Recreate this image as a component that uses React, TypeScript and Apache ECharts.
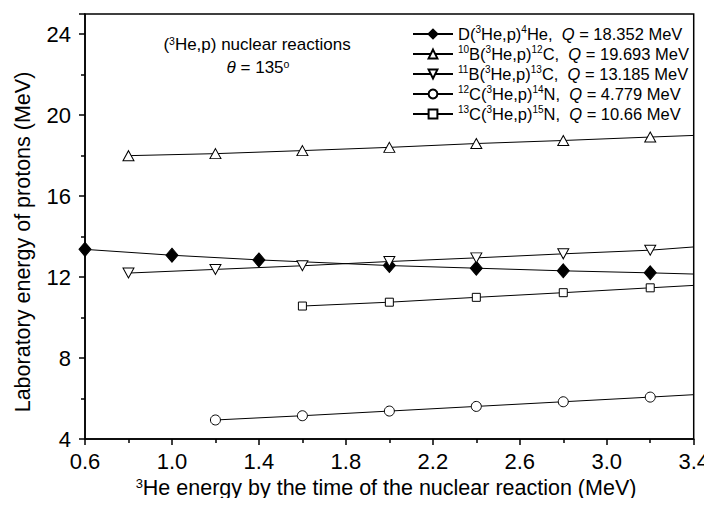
import React, { useEffect, useRef } from "react";
import * as echarts from "echarts";

const xD = [0.6, 1.0, 1.4, 2.0, 2.4, 2.8, 3.2, 3.4];
const yD = [13.37, 13.08, 12.85, 12.57, 12.44, 12.31, 12.21, 12.15];

const xB10 = [0.8, 1.2, 1.6, 2.0, 2.4, 2.8, 3.2, 3.4];
const yB10 = [18.0, 18.1, 18.25, 18.41, 18.6, 18.75, 18.92, 19.0];

const xB11 = [0.8, 1.2, 1.6, 2.0, 2.4, 2.8, 3.2, 3.4];
const yB11 = [12.2, 12.38, 12.56, 12.77, 12.95, 13.15, 13.33, 13.49];

const xC12 = [1.2, 1.6, 2.0, 2.4, 2.8, 3.2, 3.4];
const yC12 = [4.94, 5.15, 5.38, 5.61, 5.84, 6.07, 6.19];

const xC13 = [1.6, 2.0, 2.4, 2.8, 3.2, 3.4];
const yC13 = [10.57, 10.76, 11.0, 11.23, 11.47, 11.59];

const seriesNames = ["D", "B10", "B11", "C12", "C13"];
const legendLabels = [
  "D({s|3}He,p){s|4}He,  {i|Q} = 18.352 MeV",
  "{s|10}B({s|3}He,p){s|12}C,  {i|Q} = 19.693 MeV",
  "{s|11}B({s|3}He,p){s|13}C,  {i|Q} = 13.185 MeV",
  "{s|12}C({s|3}He,p){s|14}N,  {i|Q} = 4.779 MeV",
  "{s|13}C({s|3}He,p){s|15}N,  {i|Q} = 10.66 MeV",
];

const xTicks = [0.6, 1.0, 1.4, 1.8, 2.2, 2.6, 3.0, 3.4];
const yTicks = [4, 8, 12, 16, 20, 24];

const xTitle = "{s|3}He energy by the time of the nuclear reaction (MeV)";
const yTitle = "Laboratory energy of protons (MeV)";
const note1 = "({s|3}He,p) nuclear reactions";
const note2 = "{i|θ} = 135{s|o}";

const FONT = "Liberation Sans";

function pts(xs: number[], ys: number[]) {
  return xs.map((x, i) => {
    const last = i === xs.length - 1;
    return last ? { value: [x, ys[i]], symbol: "none" } : { value: [x, ys[i]] };
  });
}

export default function App() {
  const ref = useRef<HTMLDivElement>(null);
  useEffect(() => {
    if (!ref.current) return;
    const chart = echarts.init(ref.current, null, { renderer: "svg" });
    const LH = 20;
    const legendRich = {
      s: { fontSize: 10, fontFamily: FONT, color: "#000", verticalAlign: "top", padding: [0, 0, 8, 0], lineHeight: LH },
      i: { fontSize: 16.5, fontFamily: FONT, fontStyle: "italic", color: "#000", lineHeight: LH },
    };
    const mk = (name: string, data: any[], symbol: string, size: any, fill: string) => ({
      name,
      type: "line",
      data,
      symbol,
      symbolSize: size,
      showSymbol: true,
      clip: true,
      lineStyle: { color: "#000", width: 1 },
      itemStyle: { color: fill, borderColor: "#000", borderWidth: 1 },
      z: 3,
    });
    const option: any = {
      animation: false,
      backgroundColor: "#fff",
      grid: {
        left: 85,
        right: 17,
        top: 14,
        bottom: 67,
        show: true,
        borderColor: "#000",
        borderWidth: 1.5,
        backgroundColor: "transparent",
      },
      legend: {
        left: 412,
        top: 24,
        orient: "vertical",
        align: "left",
        itemWidth: 40,
        itemHeight: 11,
        itemGap: 0,
        padding: 0,
        data: seriesNames,
        formatter: (n: string) => legendLabels[seriesNames.indexOf(n)],
        textStyle: { fontFamily: FONT, fontSize: 16.5, color: "#000", rich: legendRich, lineHeight: LH },
      },
      xAxis: {
        type: "value",
        min: xTicks[0],
        max: xTicks[xTicks.length - 1],
        interval: 0.4,
        axisLine: { show: true, lineStyle: { color: "#000", width: 1.5 } },
        axisTick: { show: true, inside: false, length: 6, lineStyle: { color: "#000", width: 1.5 } },
        minorTick: { show: true, splitNumber: 2, length: 4, lineStyle: { color: "#000", width: 1.5 } },
        splitLine: { show: false },
        axisLabel: {
          fontFamily: FONT,
          fontSize: 22,
          color: "#000",
          margin: 11,
          formatter: (v: number) => v.toFixed(1),
        },
      },
      yAxis: {
        type: "value",
        min: yTicks[0],
        max: 25,
        interval: 4,
        axisLine: { show: true, lineStyle: { color: "#000", width: 1.5 } },
        axisTick: { show: true, inside: false, length: 6, lineStyle: { color: "#000", width: 1.5 } },
        minorTick: { show: true, splitNumber: 2, length: 4, lineStyle: { color: "#000", width: 1.5 } },
        splitLine: { show: false },
        axisLabel: {
          fontFamily: FONT,
          fontSize: 22,
          color: "#000",
          margin: 14,
          formatter: (v: number) => (yTicks.includes(v) ? String(v) : ""),
        },
      },
      graphic: [
        {
          type: "text",
          x: 386,
          y: 488,
          style: {
            text: xTitle,
            font: `21.5px "${FONT}"`,
            fill: "#000",
            textAlign: "center",
            textVerticalAlign: "middle",
            rich: { s: { fontSize: 13, fontFamily: FONT, fill: "#000", verticalAlign: "top", padding: [0, 0, 9, 0] } },
          },
        },
        {
          type: "text",
          x: 23,
          y: 242,
          rotation: Math.PI / 2,
          style: {
            text: yTitle,
            font: `21.5px "${FONT}"`,
            fill: "#000",
            textAlign: "center",
            textVerticalAlign: "middle",
          },
        },
        {
          type: "text",
          x: 257,
          y: 44,
          style: {
            text: note1,
            font: `17px "${FONT}"`,
            fill: "#000",
            textAlign: "center",
            textVerticalAlign: "middle",
            rich: { s: { fontSize: 10.5, fontFamily: FONT, fill: "#000", verticalAlign: "top", padding: [0, 0, 7, 0] } },
          },
        },
        {
          type: "text",
          x: 258,
          y: 67,
          style: {
            text: note2,
            font: `17px "${FONT}"`,
            fill: "#000",
            textAlign: "center",
            textVerticalAlign: "middle",
            rich: {
              i: { fontSize: 17, fontFamily: FONT, fontStyle: "italic", fill: "#000" },
              s: { fontSize: 10.5, fontFamily: FONT, fill: "#000", verticalAlign: "top", padding: [0, 0, 7, 0] },
            },
          },
        },
      ],
      series: [
        mk("D", pts(xD, yD), "diamond", [12, 14], "#000"),
        mk("B10", pts(xB10, yB10), "triangle", [11, 10], "#fff"),
        mk("B11", pts(xB11, yB11), "path://M0,0 L10,0 L5,9 Z", [11, 10], "#fff"),
        mk("C12", pts(xC12, yC12), "circle", 10, "#fff"),
        mk("C13", pts(xC13, yC13), "rect", 8, "#fff"),
      ],
    };
    chart.setOption(option);
    return () => chart.dispose();
  }, []);
  return <div ref={ref} style={{ width: 712, height: 506, margin: -8 }} />;
}
